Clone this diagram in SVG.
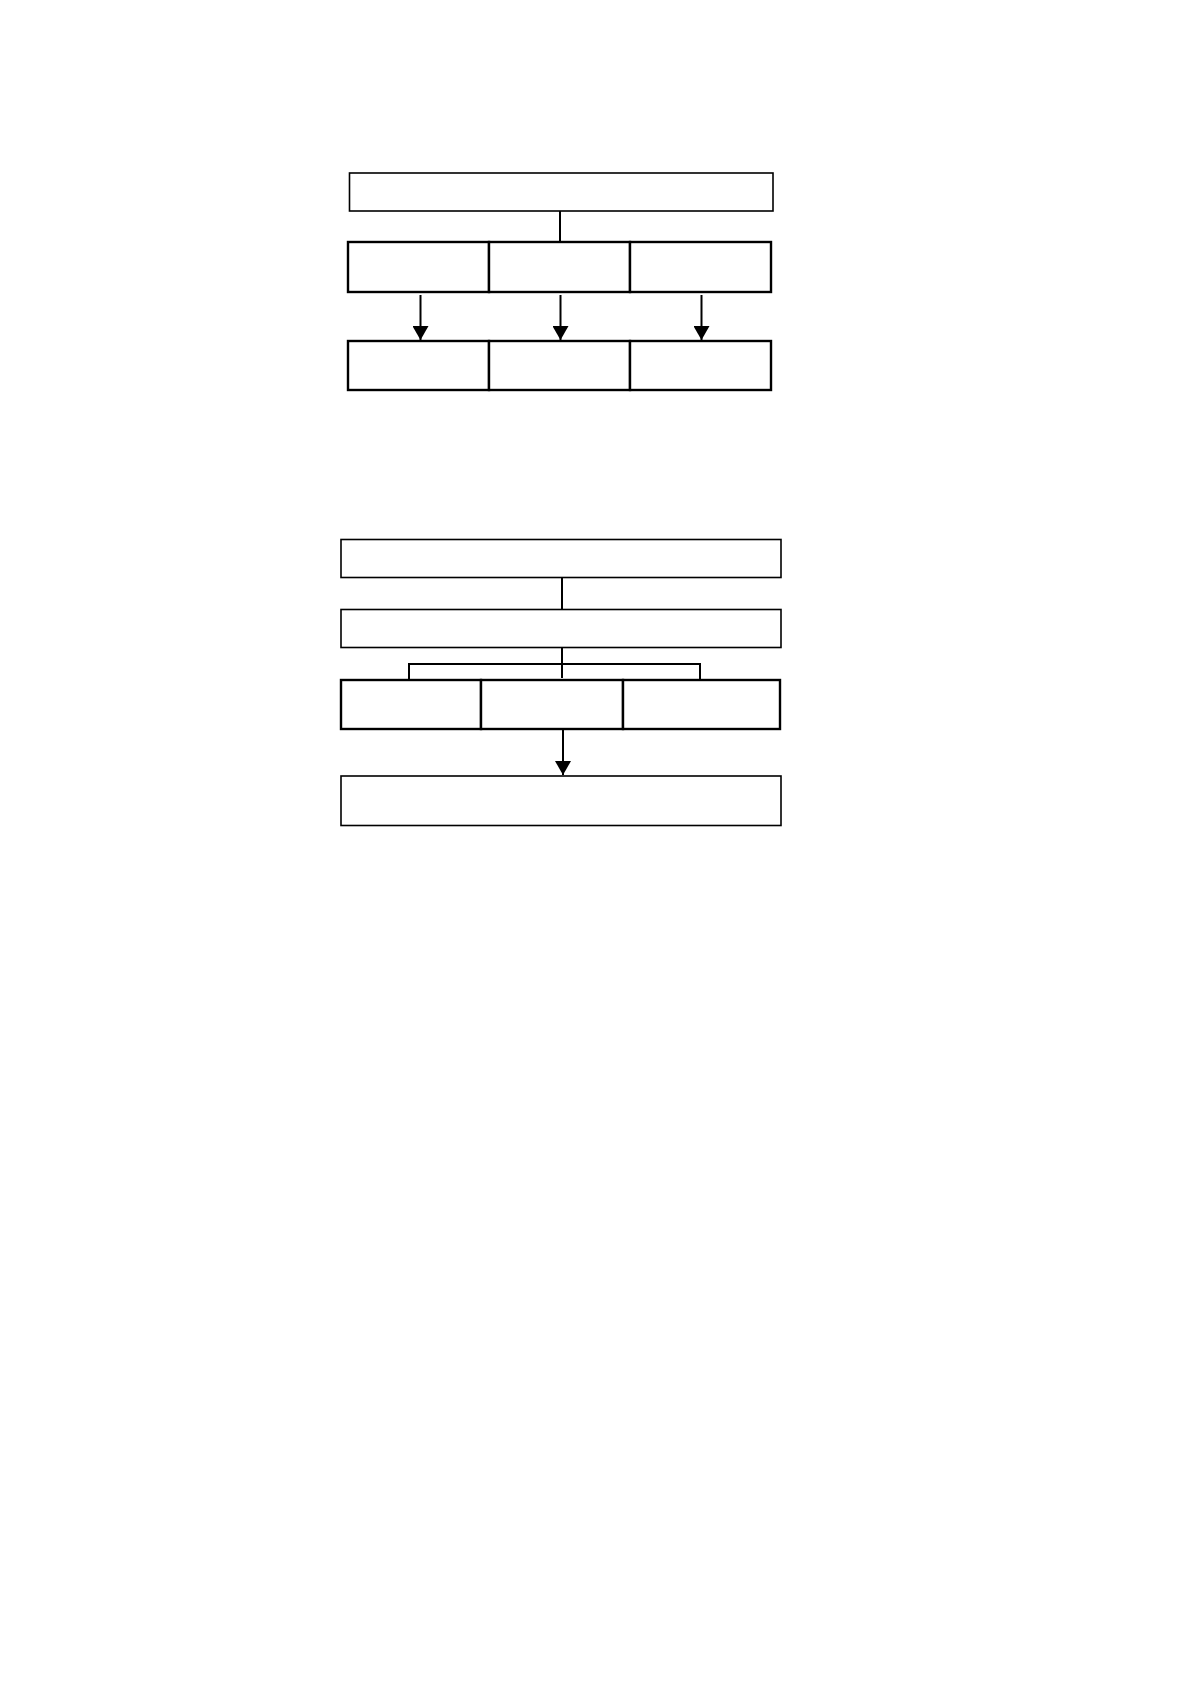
<svg xmlns="http://www.w3.org/2000/svg" width="1190" height="1684" viewBox="0 0 1190 1684">
<style>
.box{fill:#fff;stroke:#000;stroke-width:1.6}
.bold{fill:#fff;stroke:#000;stroke-width:2.4}
.ln{fill:none;stroke:#000;stroke-width:2}
</style>
<defs>
<marker id="ah" markerWidth="14" markerHeight="16" refX="14" refY="8" orient="auto" markerUnits="userSpaceOnUse" viewBox="0 0 14 16">
<path d="M0,0 L14,8 L0,16 Z" fill="#000"/>
</marker>
</defs>
<rect width="1190" height="1684" fill="#fff"/>
<g id="connectors">
<line class="ln" x1="560" y1="211" x2="560" y2="242"/>
<line class="ln" x1="420.5" y1="295" x2="420.5" y2="340" marker-end="url(#ah)"/>
<line class="ln" x1="560.5" y1="295" x2="560.5" y2="340" marker-end="url(#ah)"/>
<line class="ln" x1="701.5" y1="295" x2="701.5" y2="340" marker-end="url(#ah)"/>
<line class="ln" x1="562" y1="577" x2="562" y2="609"/>
<line class="ln" x1="562" y1="647" x2="562" y2="678"/>
<polyline class="ln" points="409,680 409,664 700,664 700,680"/>
<line class="ln" x1="563" y1="729" x2="563" y2="775" marker-end="url(#ah)"/>
</g>
<g id="n1"><rect class="box" x="349.5" y="173" width="423.5" height="38"/></g>
<g id="n2"><rect class="bold" x="348" y="242" width="141" height="50"/></g>
<g id="n3"><rect class="bold" x="489" y="242" width="141" height="50"/></g>
<g id="n4"><rect class="bold" x="630" y="242" width="141" height="50"/></g>
<g id="n5"><rect class="bold" x="348" y="341" width="141" height="49"/></g>
<g id="n6"><rect class="bold" x="489" y="341" width="141" height="49"/></g>
<g id="n7"><rect class="bold" x="630" y="341" width="141" height="49"/></g>
<g id="n8"><rect class="box" x="341" y="539.5" width="440" height="38"/></g>
<g id="n9"><rect class="box" x="341" y="609.5" width="440" height="38"/></g>
<g id="n10"><rect class="bold" x="341" y="680" width="140" height="49"/></g>
<g id="n11"><rect class="bold" x="481" y="680" width="142" height="49"/></g>
<g id="n12"><rect class="bold" x="623" y="680" width="157" height="49"/></g>
<g id="n13"><rect class="box" x="341" y="776" width="440" height="49.5"/></g>
</svg>
